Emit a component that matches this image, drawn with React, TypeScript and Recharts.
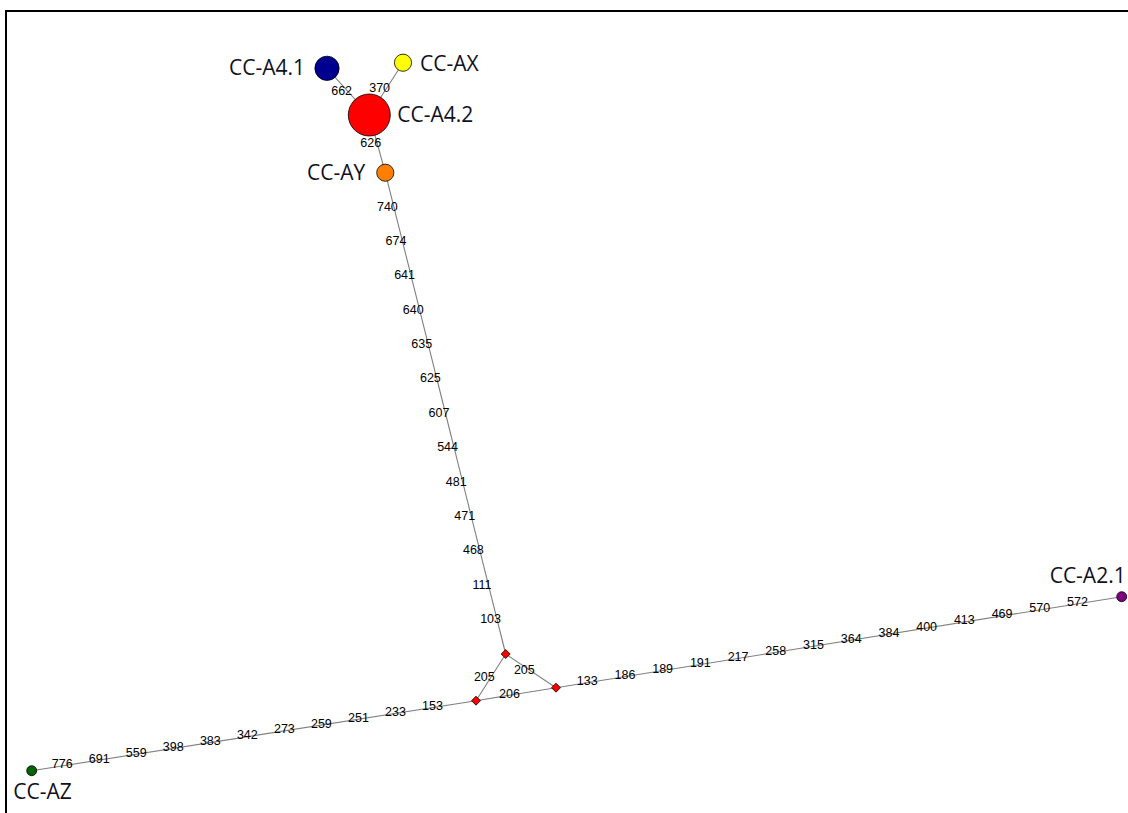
import React from 'react';
import { ScatterChart, Scatter, XAxis, YAxis, ZAxis, Cell } from 'recharts';

// Haplotype nodes (network layout coordinates)
const haplotypeNames = ['CC-A4.1', 'CC-AX', 'CC-A4.2', 'CC-AY', 'CC-AZ', 'CC-A2.1'];
const haplotypeX = [327, 403, 369.3, 385.3, 31.7, 1121.7];
const haplotypeY = [68.3, 62.7, 115, 172.7, 770.7, 596.7];
const haplotypeCount = [6, 3, 18, 3, 1, 1];

// Median vectors
const medianNames = ['mv1', 'mv2', 'mv3'];
const medianX = [505.7, 476, 556];
const medianY = [654, 700.7, 687.7];

// Edges with their mutation labels (listed from the "from" node)
const edgeFrom = ['CC-A4.1', 'CC-AX', 'CC-A4.2', 'CC-AY', 'mv1', 'mv1', 'mv2', 'mv2', 'mv3'];
const edgeTo = ['CC-A4.2', 'CC-A4.2', 'CC-AY', 'mv1', 'mv2', 'mv3', 'mv3', 'CC-AZ', 'CC-A2.1'];
const edgeMutations: string[][] = [
  ['662'],
  ['370'],
  ['626'],
  ['740', '674', '641', '640', '635', '625', '607', '544', '481', '471', '468', '111', '103'],
  ['205'],
  ['205'],
  ['206'],
  ['153', '233', '251', '259', '273', '342', '383', '398', '559', '691', '776'],
  ['133', '186', '189', '191', '217', '258', '315', '364', '384', '400', '413', '469', '570', '572'],
];

const haplotypes = haplotypeNames.map((name, i) => ({
  name,
  x: haplotypeX[i],
  y: haplotypeY[i],
  count: haplotypeCount[i],
}));
const medians = medianNames.map((name, i) => ({ name, x: medianX[i], y: medianY[i] }));
const allNodes = [...haplotypes, ...medians];
const nodeByName = (n: string) => allNodes.find((d) => d.name === n)!;

const edges = edgeFrom.map((f, i) => ({
  from: nodeByName(f),
  to: nodeByName(edgeTo[i]),
  mutations: edgeMutations[i],
}));

const mutationPoints = edges.flatMap((e) =>
  e.mutations.map((m, i) => {
    const t = (i + 1) / (e.mutations.length + 1);
    return {
      x: e.from.x + (e.to.x - e.from.x) * t,
      y: e.from.y + (e.to.y - e.from.y) * t,
      label: m,
    };
  })
);

const colors: Record<string, string> = {
  'CC-A4.1': '#000090',
  'CC-AX': '#FFFF00',
  'CC-A4.2': '#FF0000',
  'CC-AY': '#FF8000',
  'CC-AZ': '#006400',
  'CC-A2.1': '#800080',
};

const labelPlacement: Record<string, { dx: number; dy: number; anchor: 'start' | 'end' }> = {
  'CC-A4.1': { dx: -22, dy: -1, anchor: 'end' },
  'CC-AX': { dx: 17, dy: 0.5, anchor: 'start' },
  'CC-A4.2': { dx: 28, dy: -1, anchor: 'start' },
  'CC-AY': { dx: -20, dy: -0.5, anchor: 'end' },
  'CC-AZ': { dx: -18.4, dy: 20.5, anchor: 'start' },
  'CC-A2.1': { dx: 4, dy: -21.5, anchor: 'end' },
};

const Empty = () => <g />;

const MutationText = (props: any) => (
  <text
    x={props.cx - 6.5}
    y={props.cy - 0.5}
    textAnchor="middle"
    dominantBaseline="central"
    fontFamily="'Liberation Sans', Arial, sans-serif"
    fontSize={12.5}
    fill="#000"
  >
    {props.payload.label}
  </text>
);

const MedianShape = (props: any) => {
  const { cx, cy } = props;
  const r = 4.5;
  return (
    <polygon
      points={`${cx},${cy - r} ${cx + r},${cy} ${cx},${cy + r} ${cx - r},${cy}`}
      fill="#FF0000"
      stroke="#000"
      strokeWidth={0.8}
    />
  );
};

const NodeLabel = (props: any) => {
  const p = labelPlacement[props.payload.name];
  return (
    <text
      x={props.cx + p.dx}
      y={props.cy + p.dy}
      textAnchor={p.anchor}
      dominantBaseline="central"
      fontFamily="'Open Sans', 'Noto Sans', sans-serif"
      fontSize={21}
      fill="#10101c"
    >
      {props.payload.name}
    </text>
  );
};

export default function App() {
  return (
    <div style={{ position: 'absolute', left: 0, top: 0, width: 1128, height: 813, background: '#fff', overflow: 'hidden' }}>
      <div
        style={{
          position: 'absolute',
          left: 5,
          top: 10,
          width: 1130,
          height: 810,
          borderTop: '2px solid #000',
          borderLeft: '2px solid #000',
          boxSizing: 'border-box',
        }}
      />
      <div style={{ position: 'absolute', left: 0, top: 0 }}>
        <ScatterChart width={1128} height={813} margin={{ top: 0, right: 0, bottom: 0, left: 0 }}>
          <XAxis type="number" dataKey="x" domain={[0, 1128]} hide allowDataOverflow />
          <YAxis type="number" dataKey="y" domain={[0, 813]} reversed hide allowDataOverflow />
          <ZAxis type="number" dataKey="count" domain={[0, 18]} range={[1.1, 1385]} />
          {edges.map((e, i) => (
            <Scatter
              key={`edge-${i}`}
              data={[e.from, e.to]}
              line={{ stroke: '#808080', strokeWidth: 1.1 }}
              shape={Empty}
              isAnimationActive={false}
            />
          ))}
          <Scatter data={mutationPoints} shape={MutationText} isAnimationActive={false} />
          <Scatter data={haplotypes} shape="circle" stroke="#000" strokeWidth={0.8} isAnimationActive={false}>
            {haplotypes.map((h) => (
              <Cell key={h.name} fill={colors[h.name]} />
            ))}
          </Scatter>
          <Scatter data={medians} shape={MedianShape} isAnimationActive={false} />
          <Scatter data={haplotypes} shape={NodeLabel} isAnimationActive={false} />
        </ScatterChart>
      </div>
    </div>
  );
}
